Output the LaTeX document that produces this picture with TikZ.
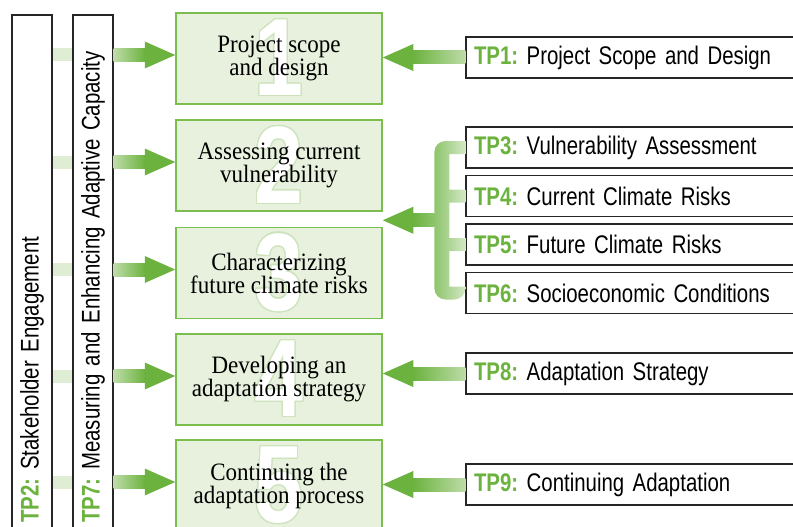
\documentclass[tikz,border=0pt]{standalone}
\usepackage{fontspec}
\setmainfont[FakeStretch=0.92]{Liberation Serif}
\setsansfont[FakeStretch=0.8, WordSpace=0.85]{Liberation Sans}
\newfontfamily\numfont[FakeStretch=0.8]{Liberation Sans}
\usepackage[copies]{contour}
\contourlength{1.2pt}
\usepackage{tikz}
\usetikzlibrary{calc}
\frenchspacing

\definecolor{arrowgreen}{HTML}{6BB23E}
\definecolor{shaftlight}{HTML}{BEDCA8}
\definecolor{palegreen}{HTML}{DFEDD4}
\definecolor{stepfill}{HTML}{E7F1DD}
\definecolor{stepline}{HTML}{7BBE4D}
\definecolor{numline}{HTML}{CDE3BC}
\definecolor{tpgreen}{HTML}{6BB23E}
\definecolor{brkdark}{HTML}{8EC46C}
\definecolor{brklight}{HTML}{D3E8C4}

\newcommand{\tp}[1]{\textcolor{tpgreen}{\bfseries #1}}

% fat arrows: #1 tail, #2 tip (same height)
\newcommand{\fatright}[2]{%
  \shade[left color=shaftlight, right color=arrowgreen] ($(#1)+(0,-6.5)$) rectangle ($(#2)+(-30,6.5)$);
  \fill[arrowgreen] ($(#2)+(-30.5,-13.5)$) -- (#2) -- ($(#2)+(-30.5,13.5)$) -- cycle;}
\newcommand{\fatleft}[3]{%
  \shade[left color=arrowgreen, right color=#3] ($(#2)+(30,-6.5)$) rectangle ($(#1)+(0,6.5)$);
  \fill[arrowgreen] ($(#2)+(30.5,-13.5)$) -- (#2) -- ($(#2)+(30.5,13.5)$) -- cycle;}

\begin{document}
\begin{tikzpicture}[x=1pt, y=-1pt,
  stepbox/.style={draw=stepline, line width=1.5pt, fill=stepfill,
    minimum width=206, minimum height=91, align=center,
    font=\fontsize{25}{23}\selectfont,
    path picture={\node[text=white, font=\numfont\bfseries\fontsize{110}{110}\selectfont]
      at (path picture bounding box.center) {\contour{numline}{#1}};}},
  sidebox/.style={draw=black!85, line width=1.2pt, rotate=90,
    minimum width=515, minimum height=40, text width=500, align=left,
    font=\sffamily\fontsize{25.5}{25.5}\selectfont},
  tpbox/.style={draw=black!85, line width=1.2pt, minimum width=334,
    minimum height=41, inner xsep=8, text width=318, align=left,
    font=\sffamily\fontsize{25.5}{25.5}\selectfont}]

\useasboundingbox (0,0) rectangle (793,527);

% side columns
\node[sidebox] (tp2) at (32,272.5) {\tp{TP2:} Stakeholder Engagement};
\node[sidebox] (tp7) at (93,272.5) {\tp{TP7:} Measuring and Enhancing Adaptive Capacity};

% steps
\node[stepbox=1] (s1) at (279,58.5) {Project scope\\and design};
\node[stepbox=2] (s2) at (279,165.5) {Assessing current\\vulnerability};
\node[stepbox=3] (s3) at (279,273) {Characterizing\\future climate risks};
\node[stepbox=4] (s4) at (279,379.5) {Developing an\\adaptation strategy};
\node[stepbox=5] (s5) at (279,485.5) {Continuing the\\adaptation process};

% topics
\node[tpbox] (tp1) at (633,57.5) {\tp{TP1:} Project Scope and Design};
\node[tpbox] (tp3) at (633,147.5) {\tp{TP3:} Vulnerability Assessment};
\node[tpbox] (tp4) at (633,196) {\tp{TP4:} Current Climate Risks};
\node[tpbox] (tp5) at (633,244.5) {\tp{TP5:} Future Climate Risks};
\node[tpbox] (tp6) at (633,293) {\tp{TP6:} Socioeconomic Conditions};
\node[tpbox] (tp8) at (633,373.5) {\tp{TP8:} Adaptation Strategy};
\node[tpbox] (tp9) at (633,484.5) {\tp{TP9:} Continuing Adaptation};

% arrows from the side columns
\foreach \i in {1,...,5}{
  \coordinate (tip\i) at ($(s\i.west)+(0,-3.5)$);
  \coordinate (tail\i) at (tp7.south |- tip\i);
  \coordinate (gapa\i) at (tp2.south |- tip\i);
  \coordinate (gapb\i) at (tp7.north |- tip\i);
  \fill[palegreen] ($(gapa\i)+(0,-6.5)$) rectangle ($(gapb\i)+(0,6.5)$);
  \fatright{tail\i}{tip\i}
}

% arrows from the topics
\coordinate (r1) at (s1.east |- tp1.west);
\coordinate (r8) at (s4.east |- tp8.west);
\coordinate (r9) at (s5.east |- tp9.west);
\fatleft{tp1.west}{r1}{shaftlight}
\fatleft{tp8.west}{r8}{shaftlight}
\fatleft{tp9.west}{r9}{shaftlight}

% bracket TP3--TP6
\coordinate (b1) at ($(tp3.west)+(-31,-6.5)$);
\coordinate (b2) at ($(tp6.west)+(-31,6.5)$);
\shade[left color=brkdark, right color=brklight]
  [rounded corners=11] ($(tp3.west)+(0,-6.5)$) -- (b1) -- (b2) -- ($(tp6.west)+(0,6.5)$)
  [sharp corners] -- ($(tp6.west)+(0,-6.5)$) -- ($(tp6.west)+(-16,-6.5)$)
  -- ($(tp3.west)+(-16,6.5)$) -- ($(tp3.west)+(0,6.5)$) -- cycle
  ($(tp4.west)+(-16,-6.5)$) rectangle ($(tp4.west)+(0,6.5)$)
  ($(tp5.west)+(-16,-6.5)$) rectangle ($(tp5.west)+(0,6.5)$);
\coordinate (mid) at ($(tp4.west)!0.5!(tp5.west)$);
\coordinate (bl) at ($(mid)+(-31,0)$);
\coordinate (r2) at (s2.east |- mid);
\fatleft{bl}{r2}{brkdark}

\end{tikzpicture}
\end{document}
